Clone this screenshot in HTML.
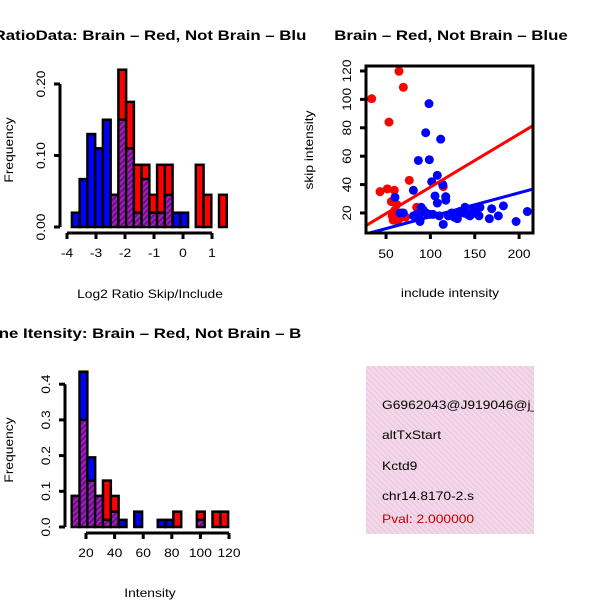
<!DOCTYPE html>
<html><head><meta charset="utf-8"><style>
body{margin:0;background:#fff}
svg{display:block;font-family:"Liberation Sans",sans-serif}
</style></head><body>
<svg id="c" width="600" height="600" viewBox="0 0 600 600">
<defs>
<pattern id="hatch" width="4" height="4" patternUnits="userSpaceOnUse" patternTransform="rotate(45)">
<rect width="4" height="4" fill="#a020c0"/><rect width="2" height="4" fill="#6a1080"/></pattern>
<pattern id="pink" width="4" height="4" patternUnits="userSpaceOnUse" patternTransform="rotate(-45)">
<rect width="4" height="4" fill="#f8d4f0"/><rect width="1" height="4" fill="#d8d0c8"/></pattern>
<clipPath id="clipBox"><rect x="366" y="366" width="168" height="168"/></clipPath>
<clipPath id="clipSc"><rect x="366" y="66" width="167" height="167"/></clipPath>
</defs>
</svg>
<script>
// Panel 1: log2 ratio histogram
const ratioBinStart = -3.83, ratioBinWidth = 0.267;
const ratioRed  = [0,0,0,0,0,0.045,0.22,0.175,0.087,0.087,0.045,0.087,0.087,0,0,0,0.087,0.045,0,0.045];
const ratioBlue = [0.02,0.067,0.13,0.11,0.15,0.045,0.15,0.11,0.02,0.067,0.02,0.02,0.045,0.02,0.02,0,0,0,0,0];
const ratioXTicks = [-4,-3,-2,-1,0,1];
const ratioYTicks = ["0.00","0.10","0.20"];
// Panel 2: scatter
const redX = [33.8,64.6,69.5,53.3,76.2,43.2,51.4,59.3,114.5,84.5,57,60,62,65,58,68,72,56,63];
const redY = [100.5,119.8,108.5,84,43,35,37,36,38.5,24,18,22,26,16,15,20,17,28,14];
const blueX = [98.4,94.7,111.6,86.4,98.8,107.8,101.5,113.9,80.8,60.1,105.2,107.8,117.3,117.3,65.7,69.5,89.6,87.6,88.3,99.6,114.5,120.2,130.4,139,137.3,144.6,148.4,155.9,154.8,166.5,169.1,176.6,182.3,196.6,209.3,84.5,81,124,133,92,95,103,110,127,142,150];
const blueY = [97,76.5,72,57,57.5,46.5,42,40,36,31,32,27,31.5,29,20,20,24,19,14,19,12,18,16,24,20,18,22,24,18,16,23,18,25,14,21,19,18,20,21,22,20,19,18,17,19,20];
const redFit = [0.85,0.374], blueFit = [0.6,0.168];
const scXTicks = [50,100,150,200];
const scYTicks = [20,40,60,80,100,120];
// Panel 3: intensity histogram
const intBinStart = 10, intBinWidth = 5.47;
const intRed  = [0.087,0.30,0.13,0.087,0.13,0.087,0,0,0,0,0,0,0,0.043,0,0,0.043,0,0.043,0.043];
const intBlue = [0.087,0.435,0.195,0.087,0.02,0.043,0.02,0,0.043,0,0,0.02,0.02,0,0,0,0.02,0,0,0];
const intXTicks = [20,40,60,80,100,120];
const intYTicks = ["0.0","0.1","0.2","0.3","0.4"];

const svg = document.getElementById('c');
const NS = 'http://www.w3.org/2000/svg';
function mk(tag, attrs, parent){const e=document.createElementNS(NS,tag);for(const k in attrs)e.setAttribute(k,attrs[k]);(parent||svg).appendChild(e);return e;}
function widen(e,f){try{const w=e.getComputedTextLength();if(w>0){e.setAttribute('textLength',(w*f).toFixed(1));e.setAttribute('lengthAdjust','spacingAndGlyphs');}}catch(err){}}
function txt(x,y,s,attrs,name,f){const e=mk('text',Object.assign({x:x,y:y},attrs));e.textContent=s;


widen(e,f||1.15);
return e;}

function hist(g, start, width, red, blue, sx, sy, name){
  for(let i=0;i<red.length;i++){
    const x0=sx(start+i*width), x1=sx(start+(i+1)*width);
    const r=red[i], b=blue[i], mx=Math.max(r,b), mn=Math.min(r,b);
    if(mx<=0) continue;
    const top=mk('rect',{x:x0,y:sy(mx),width:x1-x0,height:sy(0)-sy(mx),fill:r>=b?'#ff0000':'#0000ff',stroke:'#000','stroke-width':2.5},g);
    
    
    if(mn>0){
      const p=mk('rect',{x:x0+1.2,y:sy(mn),width:x1-x0-2.4,height:sy(0)-sy(mn)-1.2,fill:'url(#hatch)'},g);
      
      
      mk('line',{x1:x0,x2:x1,y1:sy(mn),y2:sy(mn),stroke:'#000','stroke-width':2.5},g);
    }
  }
}
function axisX(ticks, sx, y, labels){
  mk('line',{x1:sx(ticks[0]),x2:sx(ticks[ticks.length-1]),y1:y,y2:y,stroke:'#000','stroke-width':3});
  ticks.forEach((t,i)=>{mk('line',{x1:sx(t),x2:sx(t),y1:y,y2:y+6,stroke:'#000','stroke-width':3});
    txt(sx(t),y+24,labels?labels[i]:String(t),{'font-size':12,'text-anchor':'middle'},'x-tick-label');});
}
function axisY(vals, labels, sy, x){
  mk('line',{x1:x,x2:x,y1:sy(vals[0]),y2:sy(vals[vals.length-1]),stroke:'#000','stroke-width':3});
  vals.forEach((v,i)=>{mk('line',{x1:x,x2:x-6,y1:sy(v),y2:sy(v),stroke:'#000','stroke-width':3});
    txt(x-15,sy(v),labels[i],{'font-size':12,'text-anchor':'middle',transform:'rotate(-90 '+(x-15)+' '+sy(v)+')'},'y-tick-label');});
}

// Panel 1
{
  const sx=v=>67+(v+4)*29, sy=v=>227-v*715;
  const g=mk('g',{});  
  hist(g, ratioBinStart, ratioBinWidth, ratioRed, ratioBlue, sx, sy, 'ratio');
  axisX(ratioXTicks, sx, 233);
  axisY([0,0.1,0.2], ratioYTicks, sy, 60);
  txt(150,40,'RatioData: Brain \u2013 Red, Not Brain \u2013 Blu',{'font-size':14,'font-weight':'bold','text-anchor':'middle'},'ratio-title',1.2);
  txt(150,298,'Log2 Ratio Skip/Include',{'font-size':12,'text-anchor':'middle'},'ratio-x-axis-title');
  txt(13,150,'Frequency',{'font-size':12,'text-anchor':'middle',transform:'rotate(-90 13 150)'},'ratio-y-axis-title');
}
// Panel 2
{
  const sx=v=>366+(v-27.4)*0.887, sy=v=>233-(v-5.9)*1.42;
  const g=mk('g',{'clip-path':'url(#clipSc)'});  
  redX.forEach((x,i)=>{const c=mk('circle',{cx:sx(x),cy:sy(redY[i]),r:4.5,fill:'#ff0000'},g);
     });
  blueX.forEach((x,i)=>{const c=mk('circle',{cx:sx(x),cy:sy(blueY[i]),r:4.5,fill:'#0000ff'},g);
     });
  const l1=mk('line',{x1:sx(27.4),y1:sy(redFit[0]+redFit[1]*27.4),x2:sx(215.6),y2:sy(redFit[0]+redFit[1]*215.6),stroke:'#ff0000','stroke-width':3},g);
   
  const l2=mk('line',{x1:sx(27.4),y1:sy(blueFit[0]+blueFit[1]*27.4),x2:sx(215.6),y2:sy(blueFit[0]+blueFit[1]*215.6),stroke:'#0000ff','stroke-width':3},g);
   
  const b=mk('rect',{x:366,y:66,width:167,height:167,fill:'none',stroke:'#000','stroke-width':3});
   
  scXTicks.forEach(t=>{mk('line',{x1:sx(t),x2:sx(t),y1:233,y2:239,stroke:'#000','stroke-width':3});
    txt(sx(t),258,String(t),{'font-size':12,'text-anchor':'middle'},'scatter-x-tick');});
  scYTicks.forEach(t=>{mk('line',{x1:366,x2:360,y1:sy(t),y2:sy(t),stroke:'#000','stroke-width':3});
    txt(351,sy(t),String(t),{'font-size':12,'text-anchor':'middle',transform:'rotate(-90 351 '+sy(t)+')'},'scatter-y-tick');});
  txt(451,40,'Brain \u2013 Red, Not Brain \u2013 Blue',{'font-size':14,'font-weight':'bold','text-anchor':'middle'},'scatter-title',1.2);
  txt(450,297,'include intensity',{'font-size':12,'text-anchor':'middle'},'scatter-x-axis-title');
  txt(313,150,'skip intensity',{'font-size':12,'text-anchor':'middle',transform:'rotate(-90 313 150)'},'scatter-y-axis-title');
}
// Panel 3
{
  const sx=v=>86+(v-20)*1.43, sy=v=>527-v*357;
  const g=mk('g',{});  
  hist(g, intBinStart, intBinWidth, intRed, intBlue, sx, sy, 'intensity');
  axisX(intXTicks, sx, 533);
  axisY([0,0.1,0.2,0.3,0.4], intYTicks, sy, 65);
  txt(150,338,'ne Itensity: Brain \u2013 Red, Not Brain \u2013 B',{'font-size':14,'font-weight':'bold','text-anchor':'middle'},'intensity-title',1.2);
  txt(150,597,'Intensity',{'font-size':12,'text-anchor':'middle'},'intensity-x-axis-title');
  txt(13,450,'Frequency',{'font-size':12,'text-anchor':'middle',transform:'rotate(-90 13 450)'},'intensity-y-axis-title');
}
// Panel 4: info box
{
  const g=mk('g',{'clip-path':'url(#clipBox)'});  
  mk('rect',{x:366,y:366,width:168,height:168,fill:'url(#pink)'},g);
  const lines=[['G6962043@J919046@j_',409,'#000','event-id'],['altTxStart',439,'#000','event-type'],['Kctd9',470,'#000','gene-name'],['chr14.8170-2.s',500,'#000','location'],['Pval: 2.000000',523,'#c00000','p-value']];
  lines.forEach(l=>{const t=mk('text',{x:382,y:l[1],'font-size':12,fill:l[2]},g);t.textContent=l[0];
    
    
    widen(t,1.15);});
}
</script>
</body></html>
